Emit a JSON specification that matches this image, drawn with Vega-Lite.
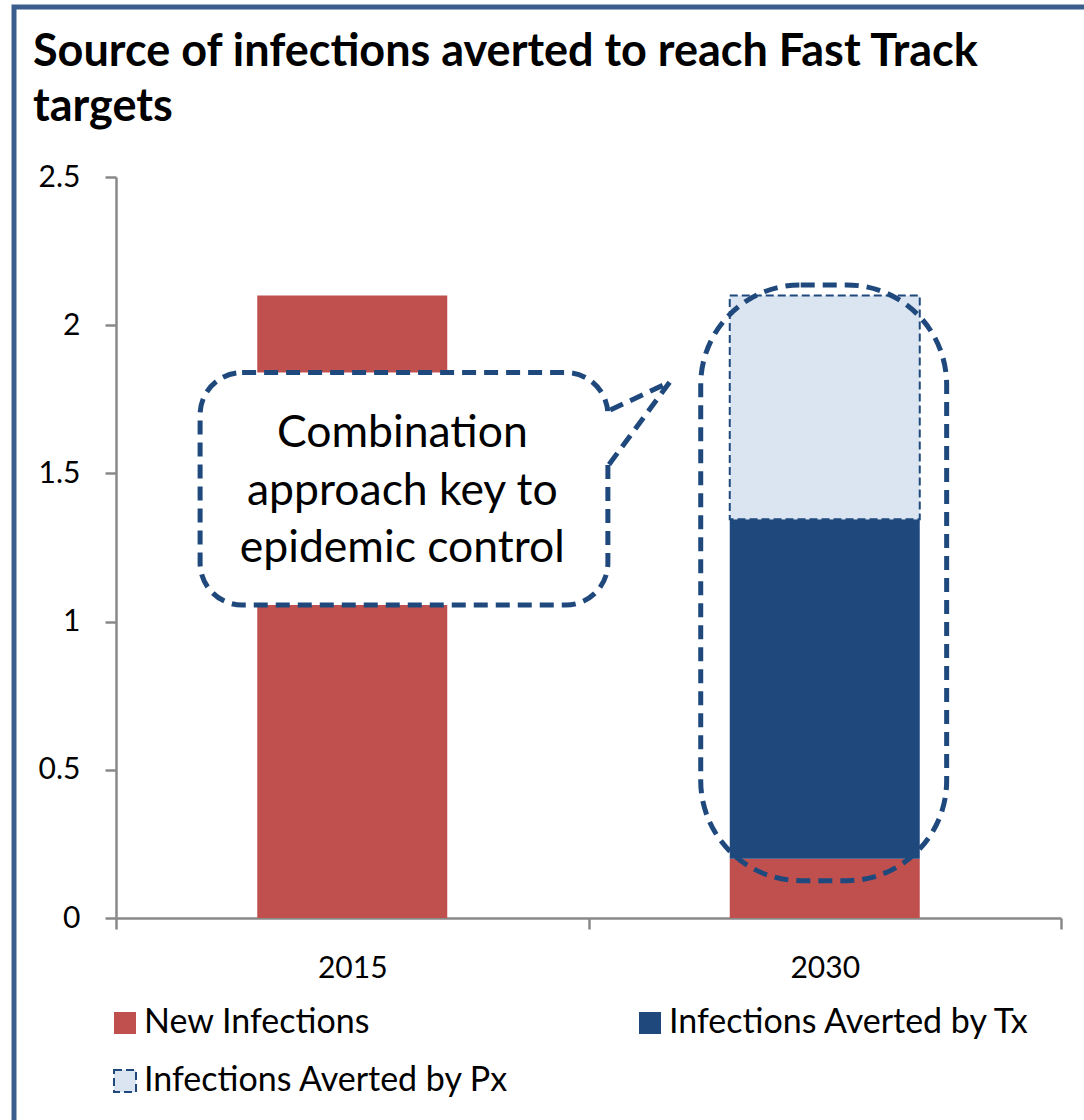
{
  "$schema": "https://vega.github.io/schema/vega-lite/v6.json",
  "width": 1075,
  "height": 1120,
  "autosize": {"type": "none"},
  "padding": {"left": 14, "top": 7, "right": 0, "bottom": 0},
  "background": "white",
  "config": {
    "font": "Lato",
    "view": {"stroke": "#3b5e8c", "strokeWidth": 5},
    "axisY": {"domainColor": "#898989", "domainWidth": 2.5, "tickColor": "#898989", "tickWidth": 2.5, "tickSize": 11, "labelFontSize": 30, "labelColor": "black", "labelFont": "Lato", "labelPadding": 25, "grid": false, "offset": -102},
    "axisX": {"domainColor": "#898989", "domainWidth": 2.5, "tickColor": "#898989", "tickWidth": 2.5, "tickSize": 11, "labelFontSize": 30, "labelColor": "black", "labelFont": "Lato", "labelPadding": 24, "grid": false}
  },
  "title": {
    "text": ["Source of infections averted to reach Fast Track", "targets"],
    "anchor": "start",
    "frame": "group",
    "orient": "top",
    "offset": 0,
    "baseline": "top",
    "dx": 19,
    "dy": 123,
    "fontSize": 45,
    "fontWeight": "bold",
    "font": "Lato",
    "color": "black",
    "lineHeight": 55
  },
  "datasets": {
    "bars": [
      {"year": "2015", "series": "New Infections", "value": 2.1, "ord": 1},
      {"year": "2030", "series": "New Infections", "value": 0.2, "ord": 1},
      {"year": "2030", "series": "Infections Averted by Tx", "value": 1.145, "ord": 2},
      {"year": "2030", "series": "Infections Averted by Px", "value": 0.755, "ord": 3}
    ],
    "bubble": [{"p": 0.178, "p2": 1.041, "y": 1.056, "y2": 1.84}],
    "gap": [{"p": 1.041, "y": 1.53, "y2": 1.71}],
    "tail": [
      {"i": 1, "p": 1.046, "y": 1.714},
      {"i": 2, "p": 1.172, "y": 1.808},
      {"i": 3, "p": 1.041, "y": 1.525}
    ],
    "note": [{"p": 0.606, "y": 1.589, "text": "Combination\napproach key to\nepidemic control"}],
    "oval": [{"p": 1.2375, "p2": 1.758, "y": 0.126, "y2": 2.136}]
  },
  "layer": [
    {
      "data": {"name": "bars"},
      "mark": {"type": "bar", "width": 190, "strokeWidth": 2},
      "encoding": {
        "x": {
          "field": "year", "type": "nominal",
          "scale": {"range": [102, 1047], "paddingInner": 0, "paddingOuter": 0},
          "axis": {"title": null, "orient": "bottom", "offset": -209, "tickBand": "extent", "labelAngle": 0}
        },
        "y": {
          "field": "value", "type": "quantitative", "stack": "zero",
          "scale": {"domain": [0, 2.5], "range": [911, 170], "nice": false},
          "axis": {"title": null, "values": [0, 0.5, 1, 1.5, 2, 2.5], "format": "~g"}
        },
        "color": {
          "field": "series", "type": "nominal",
          "scale": {"domain": ["New Infections", "Infections Averted by Tx", "Infections Averted by Px"], "range": ["#c0504d", "#1f497d", "#dbe5f1"]},
          "legend": {"title": null, "orient": "none", "direction": "horizontal", "legendX": 94, "legendY": 999, "padding": 0, "columns": 2, "columnPadding": 123, "rowPadding": 24, "symbolType": "square", "symbolSize": 484, "symbolStrokeWidth": 2, "labelFontSize": 34, "labelFont": "Lato", "labelColor": "black", "labelOffset": 2, "labelLimit": 600}
        },
        "stroke": {
          "field": "series", "type": "nominal",
          "scale": {"domain": ["New Infections", "Infections Averted by Tx", "Infections Averted by Px"], "range": ["transparent", "transparent", "#1f497d"]},
          "legend": {"title": null}
        },
        "strokeDash": {
          "field": "series", "type": "nominal",
          "scale": {"domain": ["New Infections", "Infections Averted by Tx", "Infections Averted by Px"], "range": [[1, 0], [1, 0], [8, 4]]},
          "legend": {"title": null}
        },
        "order": {"field": "ord", "type": "quantitative"}
      }
    },
    {
      "data": {"name": "bubble"},
      "mark": {"type": "rect", "fill": "white", "stroke": "#1f497d", "strokeWidth": 5, "strokeDash": [14, 8], "cornerRadius": 42},
      "encoding": {
        "x": {"field": "p", "type": "quantitative", "scale": {"domain": [0, 2], "range": [102, 1047], "nice": false, "zero": false}, "axis": null},
        "x2": {"field": "p2"},
        "y": {"field": "y", "type": "quantitative", "scale": {"domain": [0, 2.5], "range": [911, 170], "nice": false}, "axis": {"title": null}},
        "y2": {"field": "y2"}
      }
    },
    {
      "data": {"name": "gap"},
      "mark": {"type": "rule", "stroke": "white", "strokeWidth": 9},
      "encoding": {
        "x": {"field": "p", "type": "quantitative", "scale": {"domain": [0, 2], "range": [102, 1047], "nice": false, "zero": false}, "axis": null},
        "y": {"field": "y", "type": "quantitative", "scale": {"domain": [0, 2.5], "range": [911, 170], "nice": false}, "axis": {"title": null}},
        "y2": {"field": "y2"}
      }
    },
    {
      "data": {"name": "tail"},
      "mark": {"type": "line", "stroke": "#1f497d", "strokeWidth": 5, "strokeDash": [14, 8]},
      "encoding": {
        "x": {"field": "p", "type": "quantitative", "scale": {"domain": [0, 2], "range": [102, 1047], "nice": false, "zero": false}, "axis": null},
        "y": {"field": "y", "type": "quantitative", "scale": {"domain": [0, 2.5], "range": [911, 170], "nice": false}, "axis": {"title": null}},
        "order": {"field": "i", "type": "quantitative"}
      }
    },
    {
      "data": {"name": "note"},
      "mark": {"type": "text", "fontSize": 44.5, "lineHeight": 57.5, "lineBreak": "\n", "align": "center", "baseline": "alphabetic", "color": "black", "font": "Lato"},
      "encoding": {
        "x": {"field": "p", "type": "quantitative", "scale": {"domain": [0, 2], "range": [102, 1047], "nice": false, "zero": false}, "axis": null},
        "y": {"field": "y", "type": "quantitative", "scale": {"domain": [0, 2.5], "range": [911, 170], "nice": false}, "axis": {"title": null}},
        "text": {"field": "text", "type": "nominal"}
      }
    },
    {
      "data": {"name": "oval"},
      "mark": {"type": "rect", "fill": "transparent", "stroke": "#1f497d", "strokeWidth": 5, "strokeDash": [14, 8], "cornerRadius": 100},
      "encoding": {
        "x": {"field": "p", "type": "quantitative", "scale": {"domain": [0, 2], "range": [102, 1047], "nice": false, "zero": false}, "axis": null},
        "x2": {"field": "p2"},
        "y": {"field": "y", "type": "quantitative", "scale": {"domain": [0, 2.5], "range": [911, 170], "nice": false}, "axis": {"title": null}},
        "y2": {"field": "y2"}
      }
    }
  ],
  "resolve": {"scale": {"x": "independent"}}
}
